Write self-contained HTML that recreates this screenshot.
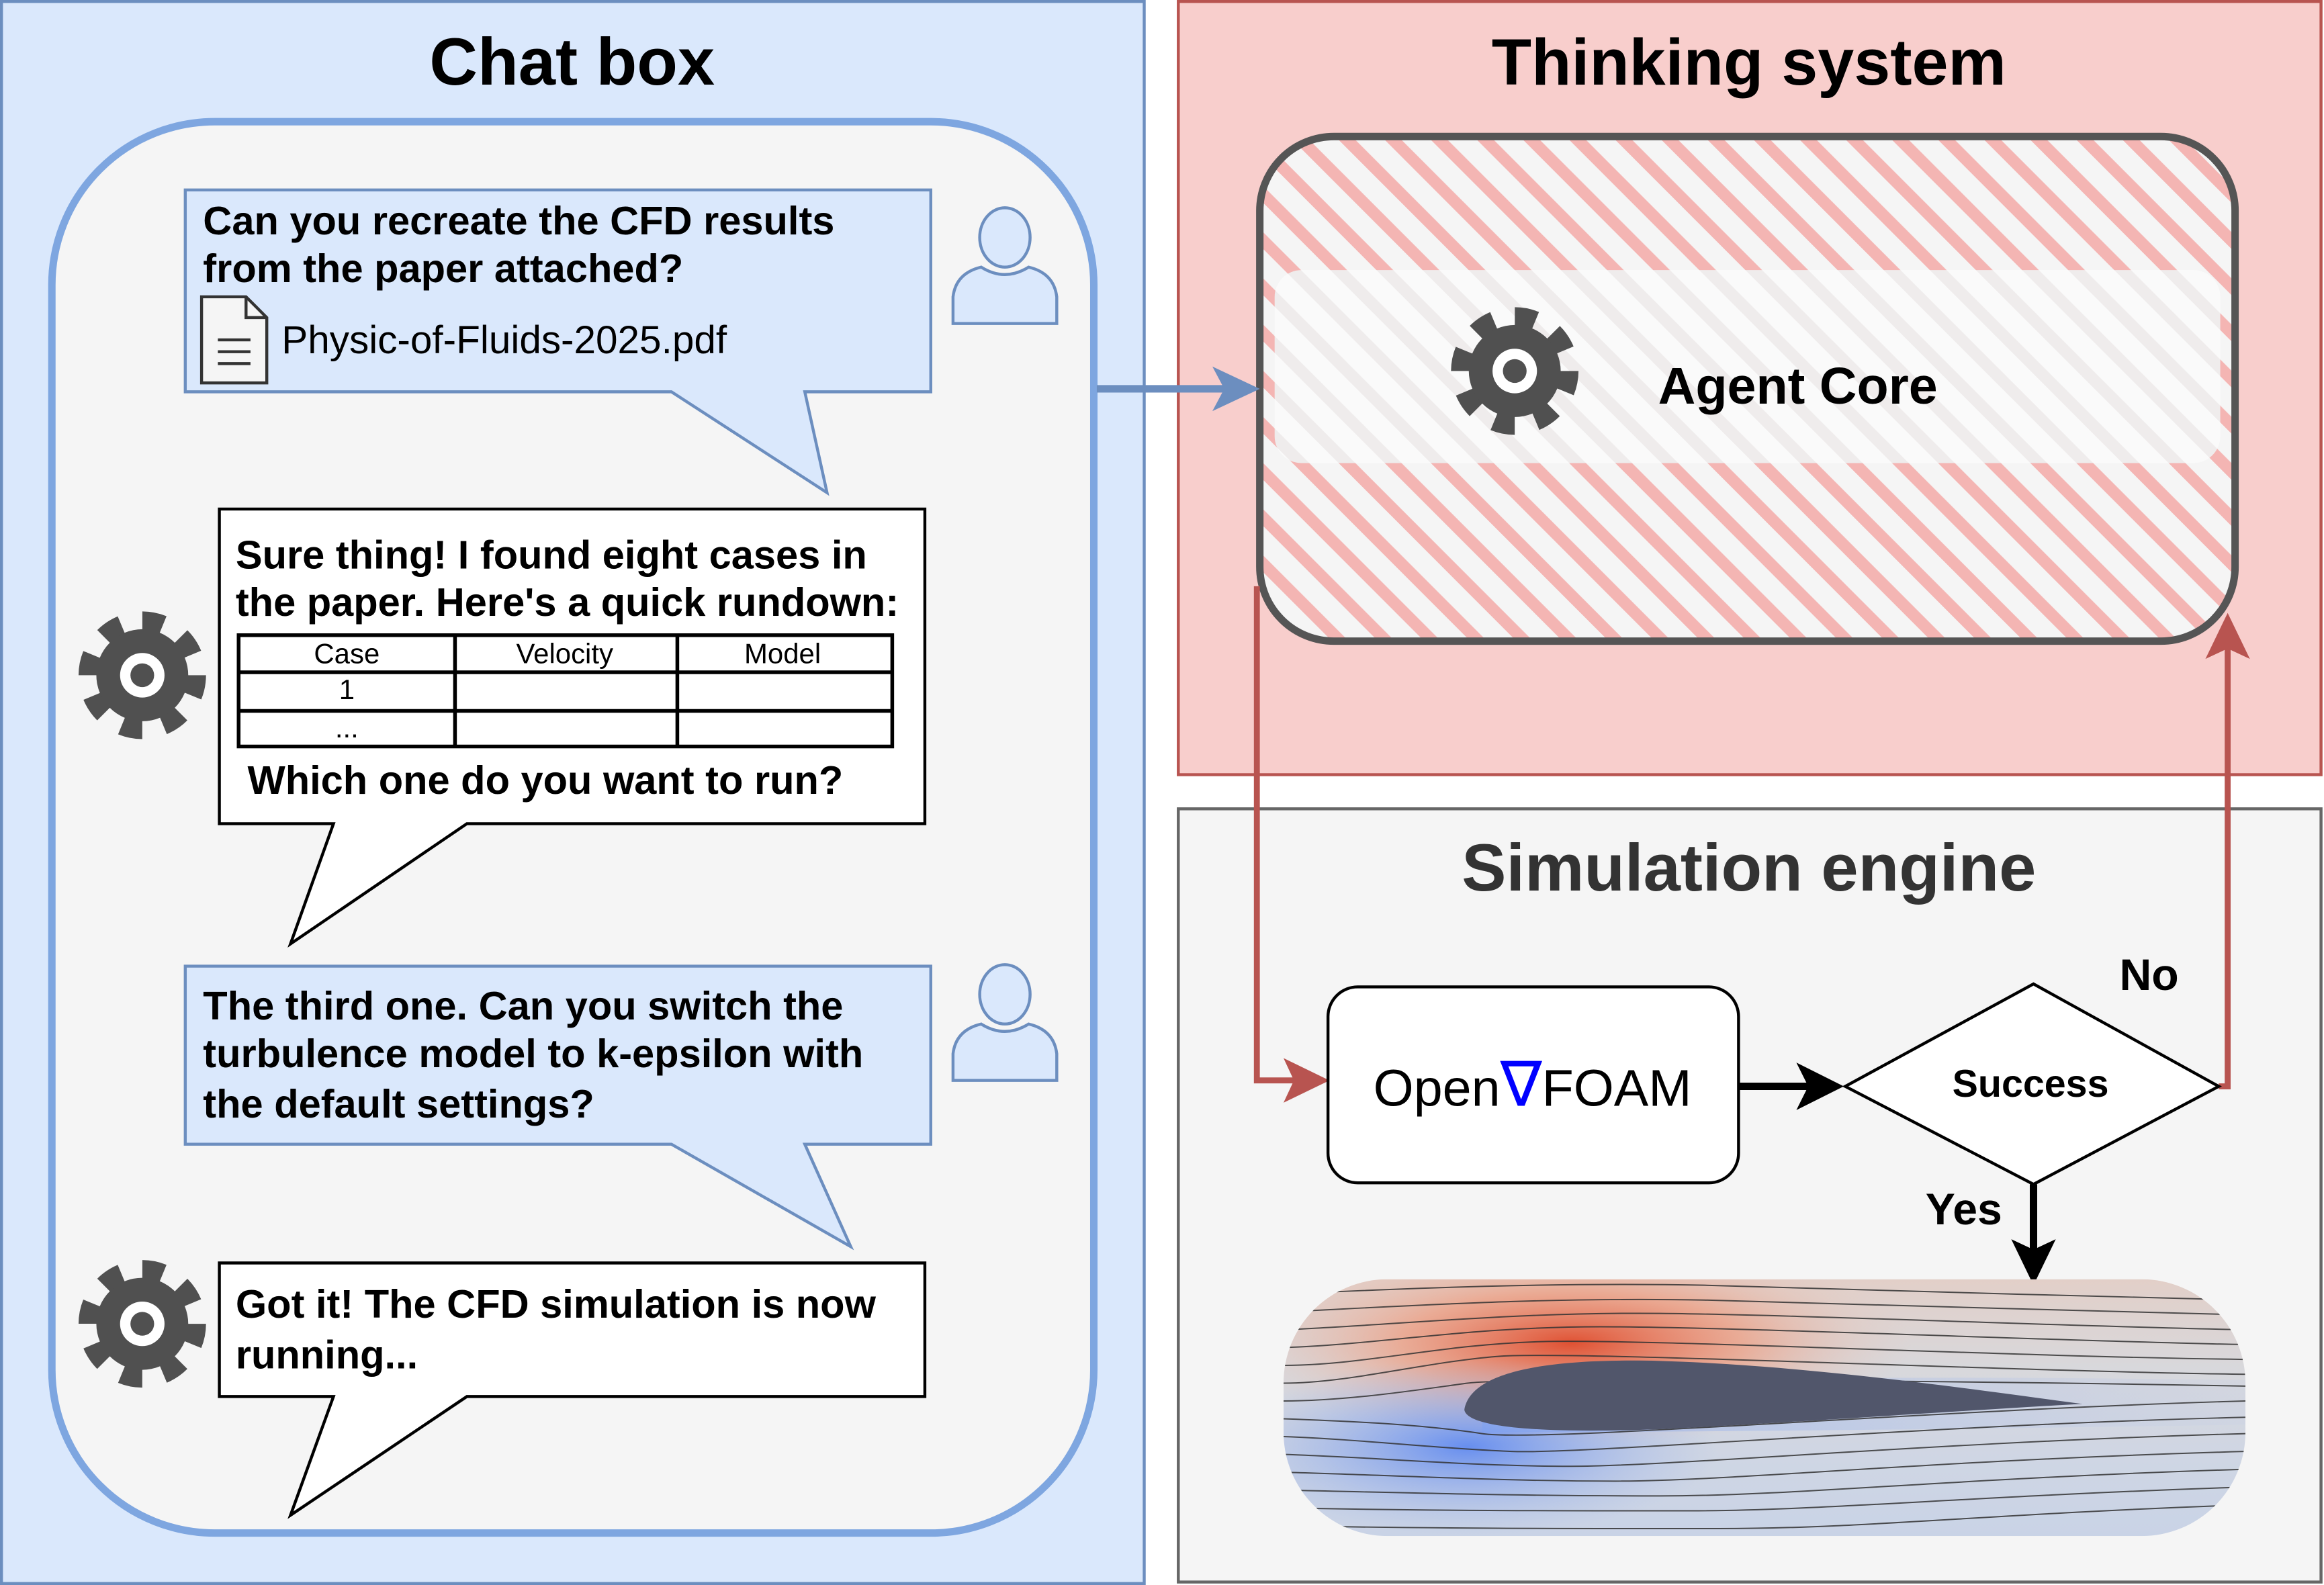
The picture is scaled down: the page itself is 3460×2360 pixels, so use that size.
<!DOCTYPE html>
<html><head><meta charset="utf-8"><style>
html,body{margin:0;padding:0;background:#fff;}
svg{display:block;}
text{font-family:"Liberation Sans",Arial,sans-serif;}
</style></head><body>
<svg width="3460" height="2360" viewBox="0 0 1568 1068" preserveAspectRatio="none" xmlns="http://www.w3.org/2000/svg">
<defs>
<pattern id="hatch" patternUnits="userSpaceOnUse" width="22" height="22" patternTransform="rotate(-45)">
<rect width="22" height="22" fill="#f5f5f5"/>
<rect width="8" height="22" fill="#f4b5b3"/>
</pattern>
<pattern id="hatch2" patternUnits="userSpaceOnUse" width="22" height="22" patternTransform="rotate(-45)">
<rect width="22" height="22" fill="#fafafa"/>
<rect width="8" height="22" fill="#efefef"/>
</pattern>
<linearGradient id="flow" x1="0" y1="0" x2="0" y2="1">
<stop offset="0" stop-color="#e2cfc8"/>
<stop offset="0.35" stop-color="#d8d8dc"/>
<stop offset="0.7" stop-color="#cfd6e4"/>
<stop offset="1" stop-color="#c9d3e6"/>
</linearGradient>
<radialGradient id="hot" cx="1060" cy="905" r="230" gradientUnits="userSpaceOnUse" gradientTransform="translate(0,905) scale(1,0.3) translate(0,-905)">
<stop offset="0" stop-color="#e04a2a" stop-opacity="0.95"/>
<stop offset="0.5" stop-color="#ef9a7c" stop-opacity="0.7"/>
<stop offset="1" stop-color="#e6c9bf" stop-opacity="0"/>
</radialGradient>
<radialGradient id="cold" cx="990" cy="975" r="170" gradientUnits="userSpaceOnUse" gradientTransform="translate(0,975) scale(1,0.35) translate(0,-975)">
<stop offset="0" stop-color="#5b86f0" stop-opacity="0.9"/>
<stop offset="1" stop-color="#9cb3ea" stop-opacity="0"/>
</radialGradient>
<linearGradient id="wake" x1="0" y1="0" x2="1" y2="0">
<stop offset="0" stop-color="#7aa0f2" stop-opacity="0.8"/>
<stop offset="1" stop-color="#b8c7ea" stop-opacity="0.2"/>
</linearGradient>
<clipPath id="flowclip"><rect x="866" y="862" width="649" height="173" rx="70"/></clipPath>
<g id="gear">
<circle r="36" fill="none" stroke="#505050" stroke-width="14" stroke-dasharray="14 14.27"/>
<circle r="31" fill="#505050"/>
<circle r="15" fill="#fff"/>
<circle r="8" fill="#505050"/>
</g>
<g id="user">
<ellipse cx="36" cy="22" rx="17" ry="20" fill="#dae8fc" stroke="#6c8ebf" stroke-width="2"/>
<path d="M1,80 L1,62 Q3,46 20,42 Q36,52 52,42 Q69,46 71,62 L71,80 Z" fill="#dae8fc" stroke="#6c8ebf" stroke-width="2"/>
</g>
</defs>

<!-- Left panel -->
<rect x="1" y="1" width="771" height="1066" fill="#dae8fc" stroke="#6c8ebf" stroke-width="2"/>
<text x="386" y="57" font-size="45" font-weight="bold" text-anchor="middle">Chat box</text>
<rect x="35" y="82" width="703" height="951" rx="110" fill="#f5f5f5" stroke="#7ea6e0" stroke-width="5"/>

<!-- Callout 1 -->
<path d="M125,128 H628 V264 H543 L558,332 L453,264 H125 Z" fill="#dae8fc" stroke="#6c8ebf" stroke-width="2"/>
<text x="137" y="158" font-size="27" font-weight="bold">Can you recreate the CFD results</text>
<text x="137" y="190" font-size="27" font-weight="bold">from the paper attached?</text>
<path d="M136,200 H166 L180,214 V258 H136 Z" fill="#f5f5f5" stroke="#333" stroke-width="2"/>
<path d="M166,200 V214 H180" fill="none" stroke="#333" stroke-width="2"/>
<path d="M147,229 H169 M147,237 H169 M147,245 H169" stroke="#333" stroke-width="2"/>
<text x="190" y="238" font-size="26.5">Physic-of-Fluids-2025.pdf</text>
<use href="#user" x="642" y="138"/>

<!-- Callout 2 -->
<path d="M148,343 H624 V555 H315 L196,636 L225,555 H148 Z" fill="#fff" stroke="#000" stroke-width="2"/>
<text x="159" y="383" font-size="27" font-weight="bold">Sure thing! I found eight cases in</text>
<text x="159" y="415" font-size="27" font-weight="bold">the paper. Here's a quick rundown:</text>
<rect x="161" y="428" width="441" height="75" fill="none" stroke="#000" stroke-width="2.5"/>
<path d="M161,453 H602 M161,479 H602 M307,428 V503 M457,428 V503" stroke="#000" stroke-width="2.5"/>
<text x="234" y="447" font-size="19" text-anchor="middle">Case</text>
<text x="381" y="447" font-size="19" text-anchor="middle">Velocity</text>
<text x="528" y="447" font-size="19" text-anchor="middle">Model</text>
<text x="234" y="471" font-size="19" text-anchor="middle">1</text>
<text x="234" y="497" font-size="19" text-anchor="middle">...</text>
<text x="167" y="535" font-size="27" font-weight="bold">Which one do you want to run?</text>
<use href="#gear" x="96" y="455"/>

<!-- Callout 3 -->
<path d="M125,651 H628 V771 H543 L574,840 L453,771 H125 Z" fill="#dae8fc" stroke="#6c8ebf" stroke-width="2"/>
<text x="137" y="687" font-size="27" font-weight="bold">The third one. Can you switch the</text>
<text x="137" y="719" font-size="27" font-weight="bold">turbulence model to k-epsilon with</text>
<text x="137" y="753" font-size="27" font-weight="bold">the default settings?</text>
<use href="#user" x="642" y="648"/>

<!-- Callout 4 -->
<path d="M148,851 H624 V941 H315 L196,1021 L225,941 H148 Z" fill="#fff" stroke="#000" stroke-width="2"/>
<text x="159" y="888" font-size="27" font-weight="bold">Got it! The CFD simulation is now</text>
<text x="159" y="922" font-size="27" font-weight="bold">running...</text>
<use href="#gear" x="96" y="892"/>

<!-- Thinking system -->
<rect x="795" y="1" width="771" height="521" fill="#f8cecc" stroke="#b85450" stroke-width="2"/>
<text x="1180" y="57" font-size="44" font-weight="bold" text-anchor="middle">Thinking system</text>
<rect x="850" y="92" width="658" height="340" rx="50" fill="url(#hatch)" stroke="#555" stroke-width="5"/>
<rect x="860" y="182" width="638" height="130" rx="18" fill="url(#hatch2)" opacity="0.95"/>
<use href="#gear" x="1022" y="250"/>
<text x="1213" y="272" font-size="35" font-weight="bold" text-anchor="middle">Agent Core</text>

<!-- Blue arrow -->
<path d="M740,262 H830" stroke="#6c8ebf" stroke-width="5" fill="none"/>
<path d="M818,247 L850,262 L818,277 L826,262 Z" fill="#6c8ebf"/>

<!-- Simulation engine -->
<rect x="795" y="545" width="771" height="521" fill="#f5f5f5" stroke="#666" stroke-width="2"/>
<text x="1180" y="600" font-size="45" font-weight="bold" text-anchor="middle" fill="#333">Simulation engine</text>

<!-- Red connectors -->
<path d="M848,395 V728 H878" stroke="#b85450" stroke-width="4" fill="none"/>
<path d="M866,713 L897,728 L866,743 L873,728 Z" fill="#b85450"/>
<path d="M1497,732 H1503 V432" stroke="#b85450" stroke-width="4" fill="none"/>
<path d="M1488,444 L1503,413 L1518,444 L1503,437 Z" fill="#b85450"/>

<!-- OpenFOAM box -->
<rect x="896" y="665" width="277" height="132" rx="20" fill="#fff" stroke="#000" stroke-width="2"/>
<text x="1034" y="745" font-size="35" text-anchor="middle">Open<tspan fill="#0000ff" font-size="42">∇</tspan>FOAM</text>

<!-- black arrow -->
<path d="M1173,732 H1228" stroke="#000" stroke-width="5"/>
<path d="M1212,716 L1244,732 L1212,748 L1220,732 Z" fill="#000"/>

<!-- Diamond -->
<path d="M1245,732 L1372,663 L1497,732 L1372,798 Z" fill="#fff" stroke="#000" stroke-width="2"/>
<text x="1370" y="739" font-size="26" font-weight="bold" text-anchor="middle">Success</text>
<text x="1450" y="667" font-size="30" font-weight="bold" text-anchor="middle">No</text>
<text x="1325" y="825" font-size="30" font-weight="bold" text-anchor="middle">Yes</text>
<path d="M1372,798 V850" stroke="#000" stroke-width="5"/>
<path d="M1357,835 L1372,866 L1387,835 L1372,842 Z" fill="#000"/>

<!-- Flow image -->
<g clip-path="url(#flowclip)">
<rect x="866" y="862" width="649" height="173" fill="url(#flow)"/>
<rect x="866" y="862" width="649" height="173" fill="url(#hot)"/>
<rect x="866" y="862" width="649" height="173" fill="url(#cold)"/>
<path d="M1000,935 Q1200,925 1515,930 V960 Q1200,965 1000,965 Z" fill="url(#wake)" opacity="0.6"/>
<g fill="none" stroke="#333" stroke-width="0.9" opacity="0.85">
<path d="M866,872 C950,868 1050,864 1150,866 S1400,874 1515,876"/>
<path d="M866,884 C950,880 1040,874 1150,876 S1400,884 1515,886"/>
<path d="M866,896 C940,893 1020,884 1120,885 S1400,894 1515,896"/>
<path d="M866,908 C930,906 990,894 1080,894 S1400,904 1515,906"/>
<path d="M866,920 C920,920 970,906 1040,904 S1350,914 1515,916"/>
<path d="M866,932 C910,932 960,918 1010,914 S1350,924 1515,926"/>
<path d="M866,944 C910,944 960,936 990,932 S1300,930 1515,934"/>
<path d="M866,956 C920,958 960,960 1000,966 S1300,950 1515,944"/>
<path d="M866,968 C920,970 970,976 1020,978 S1300,960 1515,955"/>
<path d="M866,980 C930,982 990,988 1060,988 S1300,972 1515,966"/>
<path d="M866,992 C940,994 1010,998 1090,998 S1300,984 1515,978"/>
<path d="M866,1004 C950,1006 1030,1008 1120,1008 S1320,996 1515,990"/>
<path d="M866,1016 C960,1018 1050,1018 1140,1018 S1330,1008 1515,1002"/>
<path d="M866,1028 C960,1030 1060,1030 1160,1030 S1340,1020 1515,1014"/>
</g>
<path d="M988,950 C992,925 1040,915 1120,917 C1220,920 1330,936 1405,946 C1330,950 1220,958 1120,963 C1040,966 990,962 988,950 Z" fill="#51566b"/>
</g>
</svg>
</body></html>
